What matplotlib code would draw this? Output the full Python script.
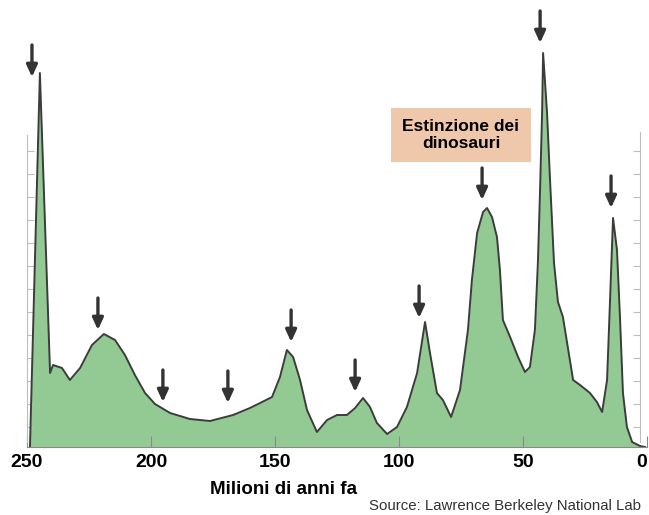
import numpy as np
import matplotlib.pyplot as plt

# === Data ===
# milioni di anni fa / intensita' delle estinzioni (unita' arbitrarie)
eta = [248.8, 244.8, 240.7, 239.5, 235.9, 232.7, 228.6, 223.8, 219.0, 214.5,
       210.5, 206.5, 202.4, 198.4, 192.3, 184.3, 176.2, 166.9, 160.1, 156.0,
       151.2, 148.0, 145.2, 142.7, 139.9, 137.1, 133.1, 129.0, 125.0, 121.0,
       117.7, 114.5, 111.7, 108.9, 104.8, 100.8, 96.8, 92.7, 89.5, 87.5,
       84.7, 82.3, 79.0, 75.4, 72.2, 70.6, 68.5, 66.1, 64.5, 62.5,
       60.5, 59.3, 58.1, 55.2, 52.0, 49.2, 47.2, 45.2, 44.0, 43.2,
       42.3, 41.9, 40.3, 39.1, 37.5, 35.9, 33.9, 29.8, 27.0, 23.0,
       20.2, 18.1, 16.1, 14.9, 13.7, 12.1, 10.9, 9.7, 8.1, 6.0,
       2.8, 0.8]
intensita = [0, 374, 74, 82, 79, 67, 79, 102, 113, 107,
             92, 72, 54, 43, 34, 28, 26, 32, 39, 44,
             50, 70, 97, 90, 67, 37, 15, 27, 32, 32,
             39, 49, 40, 24, 13, 20, 40, 74, 125, 94,
             54, 47, 30, 57, 117, 167, 214, 235, 239, 230,
             210, 177, 127, 110, 90, 75, 80, 117, 184, 250,
             334, 394, 334, 267, 184, 145, 130, 67, 62, 54,
             45, 35, 67, 147, 229, 197, 130, 54, 20, 5,
             1, 0]

# frecce sulle estinzioni (eta', punta)
frecce_eta = [248.0, 221.4, 195.2, 169.0, 143.5, 117.7, 91.9, 66.5, 43.1, 14.5]
frecce_punta = [370, 117, 45, 44, 105, 55, 129, 247, 404, 239]

xticks = [250, 200, 150, 100, 50, 0]

# === Figure ===
fig = plt.figure(figsize=(6.49, 5.15), dpi=100)
ax = fig.add_axes([27 / 649, 1 - 447 / 515, 620 / 649, 447 / 515])

ax.fill_between(eta, intensita, 0, color='#93ca93', linewidth=0)
ax.plot(eta, intensita, color='#3c3c3c', linewidth=1.4)

for t, h in zip(frecce_eta, frecce_punta):
    ax.annotate('', xy=(t, h), xytext=(t, h + 32),
                arrowprops=dict(arrowstyle='-|>,head_width=0.32,head_length=0.7',
                                color='#333333', lw=2.4, shrinkA=0, shrinkB=0))

ax.set_xlim(250, 0)
ax.set_ylim(0, 447)

# righelli grigi ai lati
ax.spines['top'].set_visible(False)
ax.spines['left'].set_bounds(5, 312)
ax.spines['left'].set_color('#bdbdbd')
ax.spines['right'].set_position(('data', 2.8))
ax.spines['right'].set_bounds(5, 315)
ax.spines['right'].set_color('#bdbdbd')
ax.spines['bottom'].set_color('#8a8a8a')
ax.set_yticks(np.arange(20, 313, 23))
ax.tick_params(axis='y', which='both', direction='in', length=5, color='#bdbdbd',
               labelleft=False, right=True, labelright=False)

ax.set_xticks(xticks)
ax.set_xticklabels([str(v) for v in xticks], fontsize=14, fontweight='bold',
                   family='Liberation Sans')
ax.get_xticklabels()[-1].set_horizontalalignment('right')
ax.tick_params(axis='x', direction='in', length=8, color='#8a8a8a', pad=5)

ax.text(283 / 649, 1 - 490 / 515, 'Milioni di anni fa', transform=fig.transFigure,
        ha='center', va='center', fontsize=13.5, fontweight='bold',
        family='Liberation Sans')
ax.text(641 / 649, 1 - 506 / 515, 'Source: Lawrence Berkeley National Lab',
        transform=fig.transFigure, ha='right', va='center', fontsize=10.8,
        color='#333333', family='Liberation Sans')

ax.text(461 / 649, 1 - 135 / 515, 'Estinzione dei\ndinosauri',
        transform=fig.transFigure, ha='center', va='center', fontsize=12.5,
        fontweight='bold', family='Liberation Sans', linespacing=1.15,
        bbox=dict(boxstyle='square,pad=0.65', facecolor='#efc7aa',
                  edgecolor='none'))

fig.savefig('out.png', dpi=100)
